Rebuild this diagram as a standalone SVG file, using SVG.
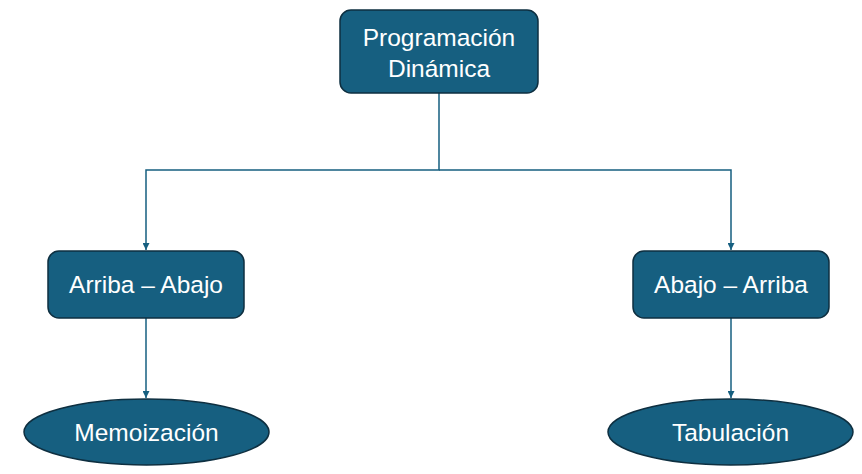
<svg xmlns="http://www.w3.org/2000/svg" width="862" height="474" viewBox="0 0 862 474">
<defs>
<style>
.box{fill:#165f80;stroke:#0e2f40;stroke-width:1.5}
.t{fill:#ffffff;font-family:"Liberation Sans","Open Sans",sans-serif;font-size:24.5px;text-anchor:middle}
.c{fill:none;stroke:#165f80;stroke-width:1.5}
</style>
<marker id="ah" viewBox="0 0 10 10" refX="10" refY="5" markerWidth="7" markerHeight="7" markerUnits="userSpaceOnUse" orient="auto"><path d="M0,0 L10,5 L0,10 z" fill="#165f80"/></marker>
</defs>
<rect width="862" height="474" fill="#ffffff"/>
<g id="connectors">
<path class="c" d="M439,93 V170 H146 V250" marker-end="url(#ah)"/>
<path class="c" d="M439,170 H731 V250" marker-end="url(#ah)"/>
<path class="c" d="M146,318 V398" marker-end="url(#ah)"/>
<path class="c" d="M731,318 V398" marker-end="url(#ah)"/>
</g>
<g id="n-prog">
<rect class="box" x="340" y="10" width="198" height="83" rx="11"/>
<text class="t" x="439" y="46">Programación</text>
<text class="t" x="439" y="77">Dinámica</text>
</g>
<g id="n-arriba">
<rect class="box" x="48" y="251" width="196" height="67" rx="11"/>
<text class="t" x="146" y="293">Arriba – Abajo</text>
</g>
<g id="n-abajo">
<rect class="box" x="633" y="251" width="196" height="67" rx="11"/>
<text class="t" x="731" y="293">Abajo – Arriba</text>
</g>
<g id="n-memo">
<ellipse class="box" cx="146.5" cy="432" rx="122.5" ry="33"/>
<text class="t" x="146.5" y="441">Memoización</text>
</g>
<g id="n-tab">
<ellipse class="box" cx="730.5" cy="432" rx="122.5" ry="33"/>
<text class="t" x="730.5" y="441">Tabulación</text>
</g>
</svg>
